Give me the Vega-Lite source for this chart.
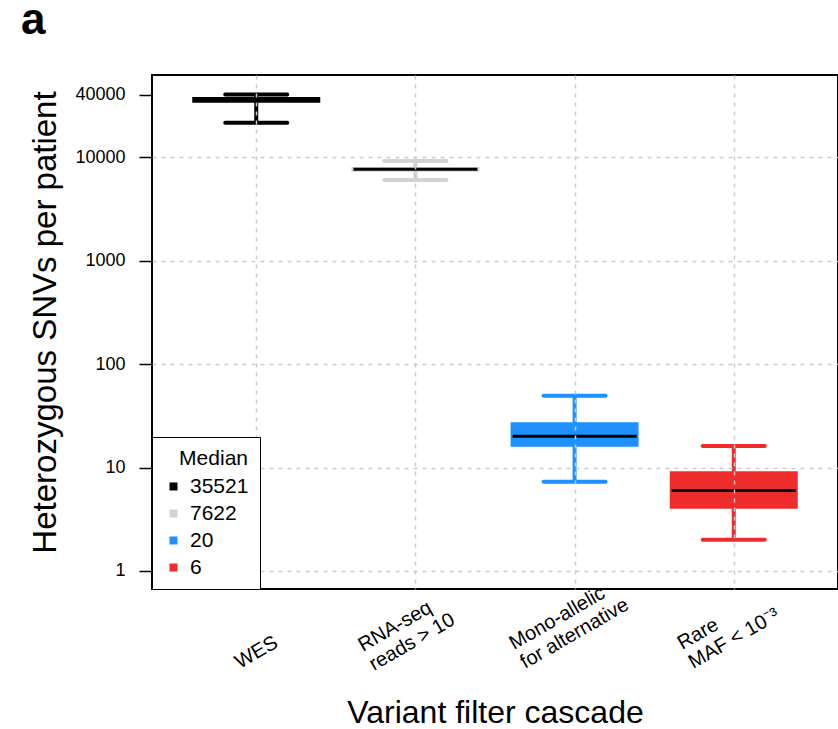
{
  "$schema": "https://vega.github.io/schema/vega-lite/v6.json",
  "width": 686,
  "height": 514,
  "autosize": {"type": "none"},
  "padding": {"left": 152, "top": 75, "right": 0, "bottom": 140},
  "background": "white",
  "config": {
    "font": "Liberation Sans",
    "view": {"stroke": "black", "strokeWidth": 2},
    "axis": {"labelColor": "black", "titleColor": "black", "labelFont": "Liberation Sans", "titleFont": "Liberation Sans"}
  },
  "title": {"text": "a", "anchor": "start", "frame": "group", "dx": -131, "dy": 20, "offset": 17, "baseline": "alphabetic", "fontSize": 44, "fontWeight": "bold", "font": "Liberation Sans", "color": "black"},
  "data": {"values": [
    {"filter": "WES", "med": "35521", "lower": 21450, "q1": 33500, "median": 35521, "q3": 38000, "upper": 40200},
    {"filter": "RNA-seq|reads > 10", "med": "7622", "lower": 5990, "q1": 7200, "median": 7622, "q3": 8000, "upper": 9150},
    {"filter": "Mono-allelic|for alternative", "med": "20", "lower": 7.3, "q1": 15.9, "median": 20, "q3": 27.3, "upper": 49.4},
    {"filter": "Rare|MAF < 10⁻³", "med": "6", "lower": 2, "q1": 4, "median": 6, "q3": 9.2, "upper": 16.1}
  ]},
  "encoding": {
    "x": {
      "field": "filter", "type": "nominal", "sort": null,
      "scale": {"type": "point", "padding": 0.655},
      "axis": {
        "title": "Variant filter cascade", "titleFontSize": 32, "titleFontWeight": "normal",
        "titleY": 133, "titleBaseline": "alphabetic",
        "labelExpr": "split(datum.label, '|')",
        "labelAngle": -30, "labelAlign": "left", "labelBaseline": "bottom",
        "labelPadding": {"condition": [
          {"test": "indexof(datum.label, 'WES') == 0", "value": 83},
          {"test": "indexof(datum.label, 'RNA') == 0", "value": 66}
        ], "value": 64},
        "labelOffset": {"condition": [
          {"test": "indexof(datum.label, 'WES') == 0", "value": -15},
          {"test": "indexof(datum.label, 'RNA') == 0", "value": -51},
          {"test": "indexof(datum.label, 'Mono') == 0", "value": -59}
        ], "value": -50},
        "labelFontSize": 20, "labelLineHeight": 22,
        "labelOverlap": false, "labelBound": false, "labelFlush": false,
        "ticks": false, "domain": false,
        "grid": true, "gridColor": "#cccccc", "gridDash": [4, 5], "gridWidth": 1.5,
        "zindex": 1
      }
    },
    "color": {"field": "med", "type": "nominal", "sort": null,
      "scale": {"domain": ["35521", "7622", "20", "6"], "range": ["#000000", "#D3D3D3", "#1E90FF", "#EE2C2C"]},
      "legend": {
        "title": "Median", "orient": "bottom-left", "offset": 0, "zindex": 2,
        "fillColor": "white", "strokeColor": "black", "padding": 11,
        "symbolType": "square", "symbolSize": 64, "symbolStrokeWidth": 0, "symbolOpacity": 1,
        "labelFontSize": 21, "labelColor": "black", "labelOffset": 6,
        "titleFontSize": 21, "titleFontWeight": "normal", "titleColor": "black", "titlePadding": 7,
        "titleAnchor": "end", "rowPadding": 5
      }}
  },
  "layer": [
    {
      "mark": {"type": "rule", "strokeWidth": 4, "opacity": 1},
      "encoding": {
        "y": {"field": "lower", "type": "quantitative", "scale": {"type": "log", "domain": [0.67, 62000], "nice": false},
          "axis": {
            "values": [1, 10, 100, 1000, 10000, 40000], "format": "d",
            "title": "Heterozygous SNVs per patient", "titleFontSize": 33, "titleFontWeight": "normal",
            "titlePadding": 12, "titleY": 247,
            "labelFontSize": 18, "labelPadding": 14, "tickSize": 13, "tickWidth": 1.5, "tickColor": "black",
            "domain": false, "grid": true, "gridColor": "#cccccc", "gridDash": [4, 5], "gridWidth": 1.5,
            "gridOpacity": {"condition": {"test": "datum.value == 40000", "value": 0}, "value": 1},
            "zindex": 1
          }},
        "y2": {"field": "upper"}
      }
    },
    {
      "mark": {"type": "bar", "size": 128, "opacity": 1},
      "encoding": {
        "y": {"field": "q1", "type": "quantitative"},
        "y2": {"field": "q3"}
      }
    },
    {
      "mark": {"type": "tick", "size": 66, "thickness": 4, "cornerRadius": 2, "opacity": 1},
      "encoding": {
        "y": {"field": "lower", "type": "quantitative"}
      }
    },
    {
      "mark": {"type": "tick", "size": 66, "thickness": 4, "cornerRadius": 2, "opacity": 1},
      "encoding": {
        "y": {"field": "upper", "type": "quantitative"}
      }
    },
    {
      "mark": {"type": "tick", "size": 124, "thickness": 3, "opacity": 1},
      "encoding": {
        "y": {"field": "median", "type": "quantitative"},
        "color": {"value": "black"}
      }
    }
  ]
}
